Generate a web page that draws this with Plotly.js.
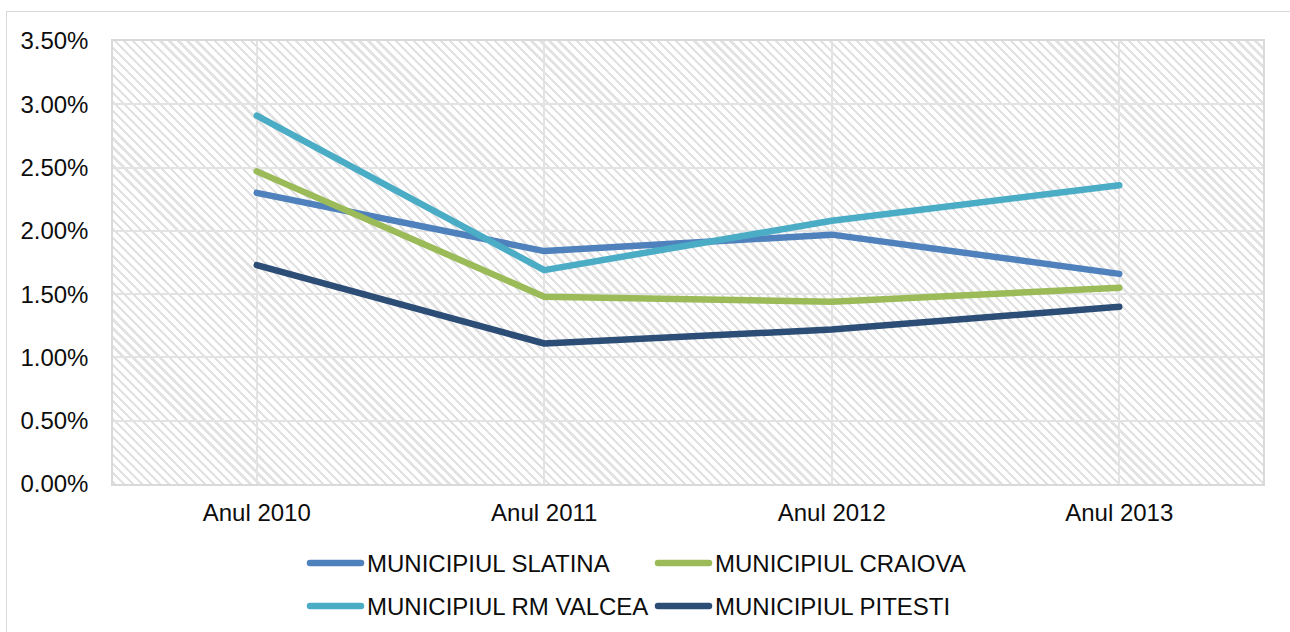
<!DOCTYPE html>
<html>
<head>
<meta charset="utf-8">
<script src="https://cdn.plot.ly/plotly-3.0.1.min.js"></script>
<style>
  html, body { margin: 0; padding: 0; background: #ffffff; }
  #wrap { position: relative; width: 1290px; height: 632px; overflow: hidden; background: #ffffff; }
  #frame { position: absolute; left: 6px; top: 11px; width: 1400px; height: 700px;
           border-top: 1px solid #d9d9d9; border-left: 1px solid #d9d9d9; box-sizing: border-box; }
  #hatch { position: absolute;
           background: repeating-linear-gradient(45deg, #e2e2e2 0px, #e2e2e2 2.3px, #ffffff 2.3px, #ffffff 6.4px); }
  #chart { position: absolute; left: 0; top: 0; width: 1290px; height: 632px; }
  .js-line, .shapelayer path { stroke-linecap: round !important; stroke-linejoin: round !important; }
</style>
</head>
<body>
<div id="wrap">
  <div id="frame"></div>
  <div id="hatch"></div>
  <div id="chart"></div>
</div>
<script>
// ---- data ----
const categories = ['Anul 2010', 'Anul 2011', 'Anul 2012', 'Anul 2013'];
const slatina = [0.0230, 0.0184, 0.0197, 0.0166];
const craiova = [0.0247, 0.0148, 0.0144, 0.0155];
const rmValcea = [0.0291, 0.0169, 0.0208, 0.0236];
const pitesti = [0.0173, 0.0111, 0.0122, 0.0140];
const seriesNames = ['MUNICIPIUL SLATINA', 'MUNICIPIUL CRAIOVA', 'MUNICIPIUL RM VALCEA', 'MUNICIPIUL PITESTI'];
const seriesValues = [slatina, craiova, rmValcea, pitesti];
const seriesColors = ['#4f81bd', '#9bbb59', '#4bacc6', '#2c4d75'];

// ---- layout geometry ----
const W = 1290, H = 632;
const M = { l: 113, r: 27, t: 41, b: 148 };
const pw = W - M.l - M.r, ph = H - M.t - M.b;
const px2x = px => (px - M.l) / pw;
const py2y = py => (M.t + ph - py) / ph;

const hatch = document.getElementById('hatch');
hatch.style.left = M.l + 'px';
hatch.style.top = M.t + 'px';
hatch.style.width = pw + 'px';
hatch.style.height = ph + 'px';

const font = { family: 'Liberation Sans, Arial, sans-serif', size: 24, color: '#0d0d0d' };

const traces = seriesNames.map((name, i) => ({
  type: 'scatter', mode: 'lines', name: name,
  x: categories, y: seriesValues[i],
  line: { color: seriesColors[i], width: 6.5 },
  showlegend: false, hoverinfo: 'x+y+name'
}));

// manual legend: two columns, two rows
const legendCols = [{ lx0: 310, lx1: 361, tx: 366 }, { lx0: 658, lx1: 709, tx: 714 }];
const legendRows = [563, 606];
const shapes = [];
const annotations = [];
seriesNames.forEach((name, i) => {
  const c = legendCols[i % 2], r = legendRows[Math.floor(i / 2)];
  shapes.push({ type: 'line', xref: 'paper', yref: 'paper',
    x0: px2x(c.lx0), x1: px2x(c.lx1), y0: py2y(r), y1: py2y(r),
    line: { color: seriesColors[i], width: 6.5 } });
  annotations.push({ xref: 'paper', yref: 'paper', x: px2x(c.tx), y: py2y(r),
    xanchor: 'left', yanchor: 'middle', showarrow: false, text: name, font: font, borderpad: 0 });
});

const layout = {
  width: W, height: H,
  margin: M,
  paper_bgcolor: 'rgba(0,0,0,0)',
  plot_bgcolor: 'rgba(0,0,0,0)',
  font: font,
  showlegend: false,
  xaxis: {
    type: 'category', range: [-0.5, 3.5],
    showgrid: true, gridcolor: '#e3e3e3', gridwidth: 1.5,
    showline: true, linecolor: '#d9d9d9', linewidth: 1.5, mirror: true,
    ticks: '', ticklabelstandoff: 6, tickfont: font, zeroline: false
  },
  yaxis: {
    range: [0, 0.035], dtick: 0.005, tick0: 0, tickformat: '.2%',
    showgrid: true, gridcolor: '#e3e3e3', gridwidth: 1.5,
    showline: true, linecolor: '#d9d9d9', linewidth: 1.5, mirror: true,
    ticks: '', ticklabelstandoff: 18, tickfont: font, zeroline: false
  },
  shapes: shapes,
  annotations: annotations
};

Plotly.newPlot('chart', traces, layout, { displayModeBar: false, responsive: false });
</script>
</body>
</html>
